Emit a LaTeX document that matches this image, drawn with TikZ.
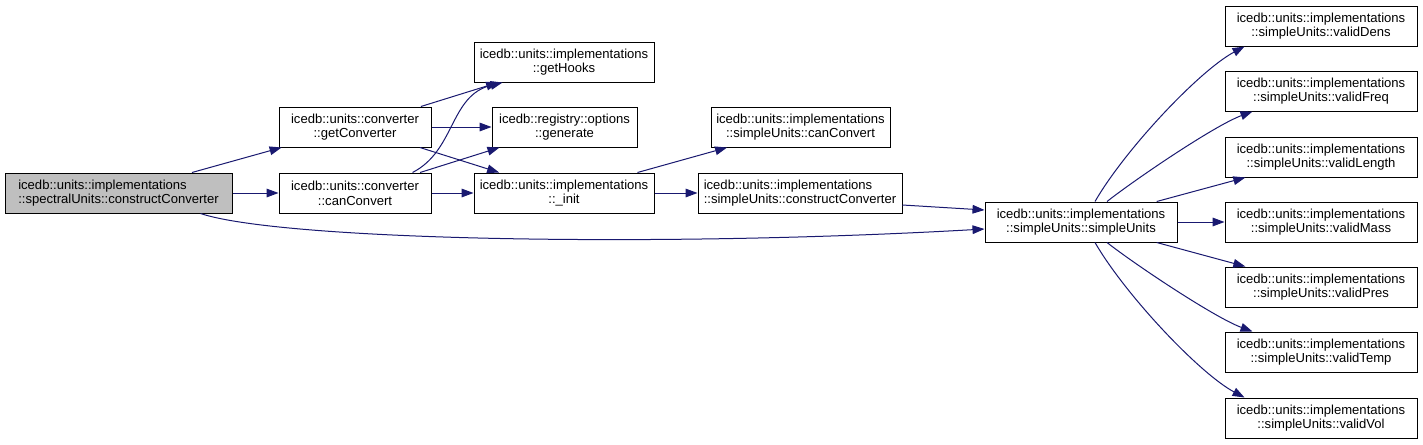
\documentclass[tikz,border=0pt]{standalone}
\usepackage{fontspec}
\setsansfont{Liberation Sans}
\usetikzlibrary{arrows.meta}

\begin{document}
\begin{tikzpicture}[x=0.75pt, y=-0.75pt, >={Triangle[length=9pt,width=6.5pt]},
  font=\sffamily\fontsize{9.8pt}{11pt}\selectfont,
  fn/.style={draw=black, line width=0.75pt, fill=white, minimum height=30pt, inner sep=2pt, align=center},
  call/.style={->, draw=callblue, line width=0.75pt}]
  \definecolor{callblue}{HTML}{191970}
  \definecolor{rootgray}{HTML}{BFBFBF}
  \draw[fill=white, draw=none] (0,0) rectangle (1423,444);

  % caller and first level
  \node[fn, fill=rootgray, align=left, minimum width=170.25pt] (root) at (118.5,193) {icedb::units::implementations\\::spectralUnits::constructConverter};
  \node[fn, minimum width=114pt] (getconv) at (355,127) {icedb::units::converter\\::getConverter};
  \node[fn, minimum width=114pt] (canconv) at (355,193) {icedb::units::converter\\::canConvert};

  % second level
  \node[fn, minimum width=135pt] (hooks) at (564,62) {icedb::units::implementations\\::getHooks};
  \node[fn, minimum width=108.75pt] (generate) at (564.5,127) {icedb::registry::options\\::generate};
  \node[fn, minimum width=135pt] (init) at (564,193) {icedb::units::implementations\\::\_init};
  \node[fn, minimum width=134.25pt] (sucanconv) at (800.5,127) {icedb::units::implementations\\::simpleUnits::canConvert};
  \node[fn, align=left, minimum width=153pt] (suconstruct) at (800,193) {icedb::units::implementations\\::simpleUnits::constructConverter};
  \node[fn, minimum width=144pt] (simple) at (1081,222) {icedb::units::implementations\\::simpleUnits::simpleUnits};

  % validators
  \node[fn, minimum width=144pt] (dens) at (1321,26) {icedb::units::implementations\\::simpleUnits::validDens};
  \node[fn, minimum width=144pt] (freq) at (1321,91) {icedb::units::implementations\\::simpleUnits::validFreq};
  \node[fn, minimum width=144pt] (length) at (1321,157) {icedb::units::implementations\\::simpleUnits::validLength};
  \node[fn, minimum width=144pt] (mass) at (1321,222) {icedb::units::implementations\\::simpleUnits::validMass};
  \node[fn, minimum width=144pt] (pres) at (1321,287) {icedb::units::implementations\\::simpleUnits::validPres};
  \node[fn, minimum width=144pt] (temp) at (1321,352) {icedb::units::implementations\\::simpleUnits::validTemp};
  \node[fn, minimum width=144pt] (vol) at (1321,418) {icedb::units::implementations\\::simpleUnits::validVol};

  \draw[call] (root) -- (getconv);
  \draw[call] (root) -- (canconv);
  \draw[call] ([xshift=-24pt]root.south east) .. controls (280,240) and (650,248) .. ([yshift=-5.25pt]simple.west);

  \draw[call] (getconv) -- (hooks);
  \draw[call] (getconv) -- (generate);
  \draw[call] (getconv) -- (init);
  \draw[call] ([xshift=-14.25pt]canconv.north east) .. controls +(43,-22) and +(-53,13) .. ([xshift=21.75pt]hooks.south west);
  \draw[call] (canconv) -- (generate);
  \draw[call] (canconv) -- (init);

  \draw[call] (init) -- (sucanconv);
  \draw[call] (init) -- (suconstruct);
  \draw[call] ([yshift=-9pt]suconstruct.east) -- ([yshift=9pt]simple.west);

  \draw[call] ([xshift=10.5pt]simple.north) .. controls +(30,-52) and +(-45,24) .. ([xshift=15pt]dens.south west);
  \draw[call] ([xshift=19.5pt]simple.north) .. controls +(28,-22) and +(-38,14) .. ([xshift=21pt]freq.south west);
  \draw[call] (simple) -- (length);
  \draw[call] (simple) -- (mass);
  \draw[call] (simple) -- (pres);
  \draw[call] ([xshift=19.5pt]simple.south) .. controls +(28,22) and +(-38,-14) .. ([xshift=21pt]temp.north west);
  \draw[call] ([xshift=10.5pt]simple.south) .. controls +(30,52) and +(-45,-24) .. ([xshift=15pt]vol.north west);
\end{tikzpicture}
\end{document}
